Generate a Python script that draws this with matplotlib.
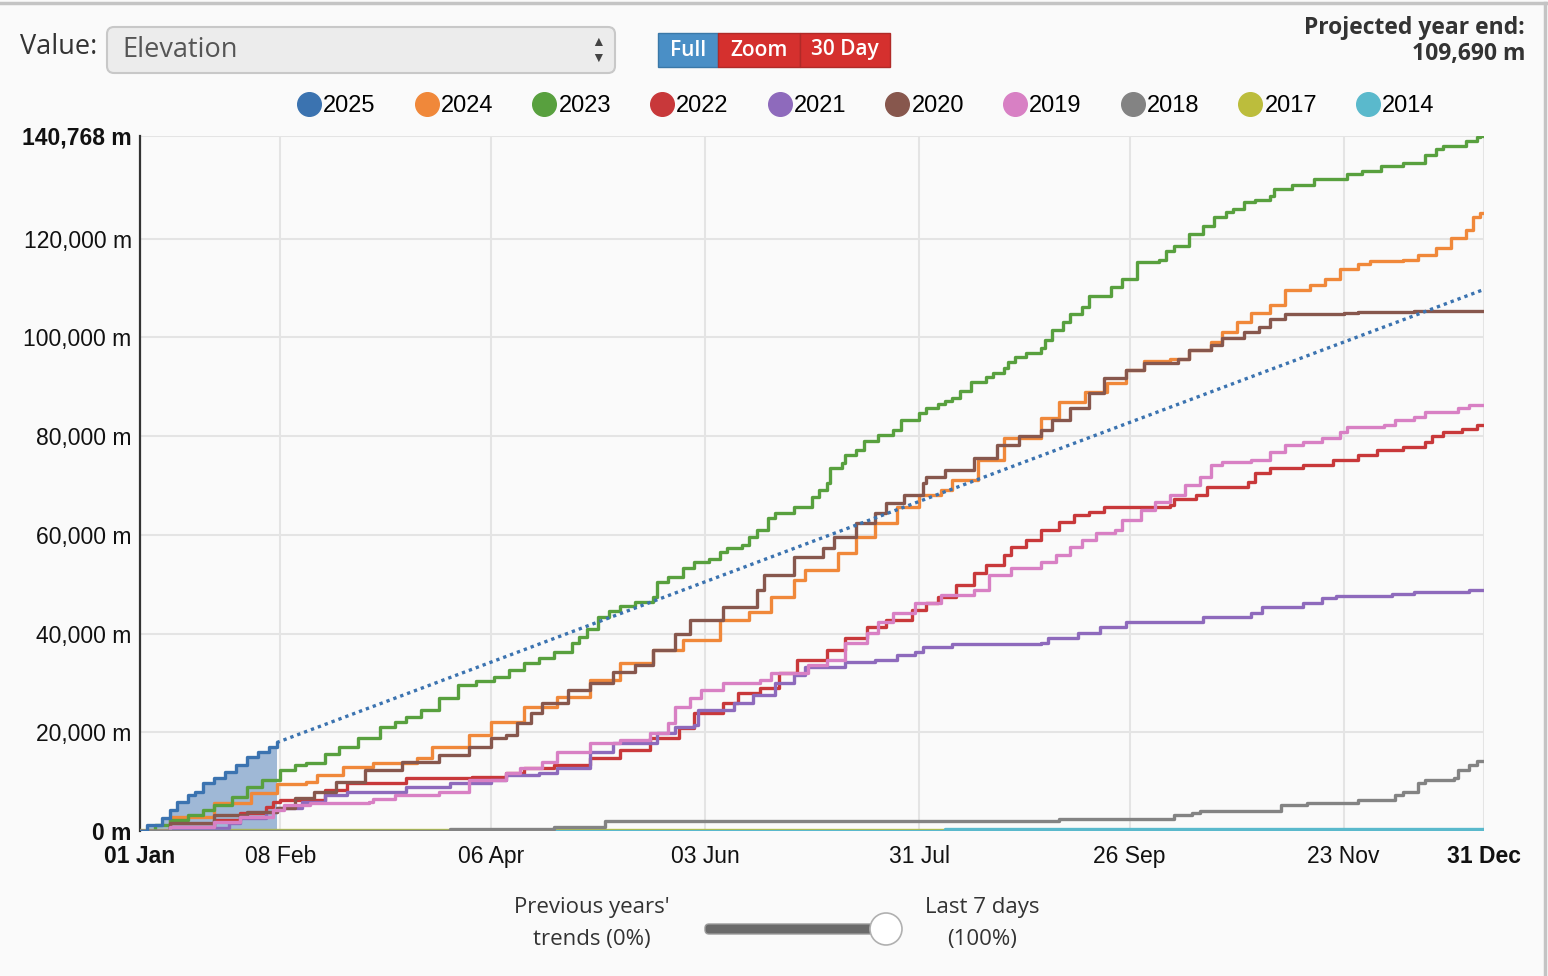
import matplotlib.pyplot as plt
from matplotlib.patches import FancyBboxPatch, Rectangle, Circle
from matplotlib.lines import Line2D
from matplotlib.ticker import FuncFormatter

plt.rcParams['font.family'] = ['Liberation Sans', 'DejaVu Sans']

# day of year -> cumulative elevation (m)
d2025 = [0, 2, 6, 8, 10, 13, 15, 17, 20, 23, 26, 29, 32, 35, 37]
v2025 = [0, 1200, 2600, 4200, 5900, 7300, 7900, 9700, 10700, 11900, 13400, 15000, 16000, 17000, 17900]

d2024 = [0, 8, 20, 30, 37, 45, 48, 55, 63, 75, 79, 89, 95, 104, 113, 122, 130, 139, 147, 157, 165,
         171, 177, 180, 189, 194, 199, 205, 211, 217, 220, 227, 234, 244, 249, 256, 262, 267, 272,
         279, 284, 290, 293, 297, 301, 306, 310, 317, 321, 325, 330, 333, 342, 346, 351, 355, 359,
         361, 363]
v2024 = [0, 2800, 5700, 7700, 9500, 9900, 11300, 13000, 13800, 14800, 17000, 19400, 22100, 25100,
         27100, 30600, 34000, 36600, 38700, 42700, 44300, 47400, 50800, 52800, 56300, 59500, 62300,
         65600, 68000, 69000, 71000, 75100, 79500, 83600, 86800, 88900, 90700, 93300, 95100, 95700,
         97400, 99000, 101000, 103000, 105000, 106500, 109500, 110500, 111900, 113900, 114800,
         115400, 115600, 116600, 118000, 120200, 121800, 124300, 125100]

d2023 = [0, 4, 8, 13, 17, 20, 25, 29, 33, 38, 42, 45, 50, 54, 59, 65, 69, 72, 76, 81, 86, 91, 96,
         100, 104, 108, 112, 117, 119, 121, 124, 127, 130, 134, 139, 140, 143, 147, 150, 154, 157,
         159, 163, 165, 167, 170, 172, 177, 182, 184, 186, 187, 190, 191, 194, 196, 200, 204, 206,
         211, 213, 216, 218, 220, 222, 225, 229, 231, 234, 235, 237, 240, 244, 245, 247, 250, 252,
         255, 257, 263, 266, 270, 276, 278, 280, 284, 288, 291, 294, 296, 299, 302, 306, 307, 312,
         318, 327, 331, 336, 342, 348, 351, 353, 359, 362, 363]
v2023 = [0, 1200, 2200, 3300, 4200, 5300, 6800, 8900, 10300, 12300, 13300, 13800, 15500, 17000,
         18800, 21000, 22000, 23100, 24500, 27000, 29500, 30300, 31200, 32600, 34000, 35000, 36300,
         38000, 39200, 41000, 43300, 44500, 45500, 46300, 47400, 50400, 51400, 53200, 54400, 55000,
         56500, 57300, 57900, 59500, 60900, 63400, 64400, 65600, 67600, 69000, 70400, 73500, 74500,
         76100, 77100, 78900, 80300, 81200, 83200, 84600, 85600, 86400, 87000, 87800, 89200, 90900,
         91900, 92700, 93700, 94900, 96100, 96900, 97800, 99400, 101400, 103000, 104800, 106100,
         108300, 110100, 111900, 115200, 115600, 117400, 118400, 121000, 122600, 124300, 125300,
         125900, 127300, 127900, 128700, 130100, 130900, 132000, 133000, 133600, 134600, 135400,
         137000, 138200, 138800, 139700, 140500, 140768]

d2022 = [0, 8, 20, 27, 34, 36, 38, 50, 56, 72, 90, 99, 104, 112, 122, 130, 138, 146, 150, 158,
         162, 168, 173, 178, 186, 191, 197, 202, 209, 213, 216, 221, 226, 229, 234, 236, 240, 244,
         249, 253, 257, 261, 279, 280, 286, 289, 300, 302, 306, 315, 323, 330, 335, 342, 348, 350,
         353, 358, 362]
v2022 = [0, 800, 2200, 3600, 4900, 5900, 6300, 8300, 9700, 10700, 10900, 11700, 12800, 13400,
         14800, 16400, 18800, 20800, 23900, 25900, 27900, 28900, 32000, 34600, 36600, 39100, 41300,
         42700, 44700, 46100, 47400, 49800, 52200, 53800, 55900, 57500, 58900, 60900, 62600, 64000,
         64600, 65600, 66000, 67200, 68000, 69600, 70600, 72500, 73500, 74100, 75100, 76100, 77100,
         77700, 78700, 80100, 80800, 81500, 82200]

d2021 = [0, 8, 24, 27, 34, 37, 44, 50, 56, 72, 84, 95, 99, 108, 113, 122, 128, 140, 145, 150,
         151, 161, 166, 172, 177, 180, 191, 199, 205, 210, 212, 220, 244, 246, 254, 260, 267, 288,
         301, 304, 315, 320, 324, 339, 345, 360]
v2021 = [0, 600, 1600, 2600, 3800, 4600, 5900, 7300, 7900, 8900, 9700, 10300, 11300, 11700, 12800,
         16000, 17800, 19800, 21000, 21500, 24500, 25900, 27500, 30000, 31600, 33200, 34200, 34600,
         35600, 36200, 37200, 37800, 38000, 39000, 40100, 41300, 42300, 43300, 44100, 45300, 46100,
         47200, 47600, 48000, 48400, 48800]

d2020 = [0, 8, 20, 29, 37, 42, 47, 53, 61, 71, 81, 89, 95, 99, 102, 106, 109, 116, 122, 128, 134,
         139, 145, 149, 158, 167, 169, 177, 185, 188, 194, 199, 202, 207, 212, 213, 218, 226, 232,
         238, 244, 247, 252, 257, 261, 267, 272, 281, 284, 290, 293, 299, 303, 306, 310, 326, 330,
         345]
v2020 = [0, 1600, 3200, 3800, 4600, 6700, 7900, 9900, 12300, 14000, 15400, 17000, 18800, 19400,
         21900, 23900, 25900, 28500, 30000, 32200, 33600, 36600, 40000, 42700, 45300, 48800, 51800,
         55500, 57300, 59500, 62300, 64400, 66400, 68000, 70400, 71600, 73100, 75500, 78100, 80100,
         81200, 83200, 85600, 88700, 91700, 93300, 94700, 95700, 97400, 98400, 99800, 101000,
         102000, 103800, 104800, 104900, 105200, 105400]

d2019 = [0, 8, 20, 27, 36, 39, 46, 62, 63, 69, 81, 89, 99, 103, 109, 113, 122, 130, 138, 143, 145,
         149, 152, 158, 168, 171, 181, 186, 191, 197, 200, 204, 210, 217, 226, 230, 236, 244, 248,
         252, 255, 259, 264, 266, 271, 275, 279, 283, 287, 290, 293, 301, 306, 310, 315, 320, 325,
         327, 337, 340, 345, 348, 357, 360]
v2019 = [0, 800, 1800, 2800, 4200, 5300, 5700, 5900, 6500, 7300, 7900, 10300, 11700, 12800, 14000,
         16000, 17800, 18400, 19800, 21900, 25100, 26900, 28500, 30000, 30600, 32000, 33600, 34600,
         38100, 40100, 42300, 44100, 46100, 47800, 48800, 51800, 53200, 54400, 55900, 57500, 58900,
         60300, 60900, 62900, 65000, 66600, 68000, 70000, 71600, 74100, 74700, 75100, 76700, 78100,
         78700, 79700, 80800, 81800, 82200, 83200, 83800, 84800, 85600, 86200]

d2018 = [0, 84, 112, 126, 249, 280, 285, 287, 309, 316, 330, 340, 342, 346, 348, 356, 357, 360, 362]
v2018 = [0, 450, 800, 2000, 2400, 3200, 3600, 4000, 5300, 5700, 6300, 7300, 7900, 9700, 10300,
         10700, 12300, 13400, 14200]

d2017 = [0]
v2017 = [150]

d2014 = [0, 218]
v2014 = [0, 400]

projected_end = 109690
y_top = 140768

# name, days, values, colour, draw order
series = [
    ('2024', d2024, v2024, '#f0883a', 3),
    ('2023', d2023, v2023, '#58a03e', 3),
    ('2022', d2022, v2022, '#c8383a', 3),
    ('2021', d2021, v2021, '#8e6abc', 3),
    ('2020', d2020, v2020, '#87574d', 3),
    ('2019', d2019, v2019, '#d880c4', 3),
    ('2018', d2018, v2018, '#838383', 3.2),
    ('2017', d2017, v2017, '#bcbd3c', 2.9),
    ('2014', d2014, v2014, '#5ab9cc', 3.1),
]
c2025 = '#3b73b0'

tick_days = [0, 38, 95, 153, 211, 268, 326, 364]
tick_names = ['01 Jan', '08 Feb', '06 Apr', '03 Jun', '31 Jul', '26 Sep', '23 Nov', '31 Dec']
y_ticks = [0, 20000, 40000, 60000, 80000, 100000, 120000, y_top]

W, H = 1548, 976
bg = '#fafafa'
fig = plt.figure(figsize=(W / 100, H / 100), dpi=100, facecolor=bg)

# header / footer widgets drawn in pixel space
hdr = fig.add_axes([0, 0, 1, 1])
hdr.set_xlim(0, W)
hdr.set_ylim(H, 0)
hdr.axis('off')
hdr.add_line(Line2D([0, W], [3, 3], color='#c4c4c4', lw=2.5))
hdr.add_line(Line2D([W - 3, W - 3], [3, H], color='#c4c4c4', lw=2.5))

ui = ['Open Sans', 'DejaVu Sans']
hdr.text(20, 47, 'Value:', fontsize=19.5, family=ui, color='#333333', va='center')
hdr.add_patch(FancyBboxPatch((107, 27), 508, 46, boxstyle='round,pad=0,rounding_size=7',
                             fc='#ececec', ec='#c8c8c8', lw=1.5))
hdr.text(122, 50, 'Elevation', fontsize=19.5, family=ui, color='#555555', va='center')
hdr.text(598, 42, '▲', fontsize=10, color='#444444', ha='center', va='center')
hdr.text(598, 58, '▼', fontsize=10, color='#444444', ha='center', va='center')

buttons = [('Full', 658, 60, '#4a8fc6'), ('Zoom', 718, 82, '#d5302e'), ('30 Day', 800, 90, '#d5302e')]
for label, bx, bw, bc in buttons:
    hdr.add_patch(Rectangle((bx, 33), bw, 34, fc=bc, ec='#b02a28' if bc != '#4a8fc6' else '#3a78a8', lw=1))
    hdr.text(bx + bw / 2, 50, label, fontsize=15, family=ui, weight='semibold', color='white',
             ha='center', va='center')

hdr.text(1525, 28, 'Projected year end:', fontsize=16.5, family=ui, weight='bold', color='#333333',
         ha='right', va='center')
hdr.text(1525, 54, f'{projected_end:,} m', fontsize=16.5, family=ui, weight='bold', color='#333333',
         ha='right', va='center')

hdr.text(592, 908, "Previous years'", fontsize=16, family=ui, color='#333333', ha='center', va='center')
hdr.text(592, 940, 'trends (0%)', fontsize=16, family=ui, color='#333333', ha='center', va='center')
hdr.text(982, 908, 'Last 7 days', fontsize=16, family=ui, color='#333333', ha='center', va='center')
hdr.text(982, 940, '(100%)', fontsize=16, family=ui, color='#333333', ha='center', va='center')
hdr.add_patch(FancyBboxPatch((705, 924), 180, 10, boxstyle='round,pad=0,rounding_size=4',
                             fc='#6a6a6a', ec='#9a9a9a', lw=1))
hdr.add_patch(Circle((886, 929), 16, fc='white', ec='#b0b0b0', lw=1.2))

# main chart
ax = fig.add_axes([140 / W, 1 - 831 / H, 1344 / W, 695 / H])
ax.set_facecolor(bg)
ax.set_xlim(0, 364)
ax.set_ylim(0, y_top)

lw = 2.4
for name, d, v, col, z in series:
    # carry the last value on to the year end
    ax.step(d + [366], v + [v[-1]], where='post', color=col, lw=lw, zorder=z)
ax.fill_between(d2025, v2025, step='post', color='#9fb8d6', lw=0, zorder=2)
ax.step(d2025, v2025, where='post', color=c2025, lw=lw, zorder=4)
ax.plot([d2025[-1], 364], [v2025[-1], projected_end], color=c2025, lw=2.4,
        linestyle=(0, (1.0, 1.2)), zorder=4)

handles = []
names = ['2025'] + [s[0] for s in series]
cols = [c2025] + [s[3] for s in series]
for n, c in zip(names, cols):
    handles.append(Line2D([], [], marker='o', ls='none', markersize=17, color=c, label=n))

ax.set_xticks(tick_days)
ax.set_xticklabels(tick_names)
ax.set_yticks(y_ticks)
ax.yaxis.set_major_formatter(FuncFormatter(lambda v, p: f'{int(v):,} m'))
ax.tick_params(axis='both', length=0, labelsize=16.5, colors='#111111')
ax.tick_params(axis='x', pad=10)
ax.tick_params(axis='y', pad=6)
for i in (0, len(tick_days) - 1):
    ax.get_xticklabels()[i].set_fontweight('bold')
for i in (0, len(y_ticks) - 1):
    ax.get_yticklabels()[i].set_fontweight('bold')

ax.grid(True, color='#e4e4e4', lw=1.5, zorder=0)
for s in ('top', 'right', 'bottom'):
    ax.spines[s].set_visible(False)
ax.spines['left'].set_color('#333333')
ax.spines['left'].set_linewidth(1.6)

fig.legend(handles=handles, loc='center', bbox_to_anchor=(866 / W, 1 - 106 / H), ncol=10,
           frameon=False, fontsize=17, handlelength=1.0, handletextpad=0.1, columnspacing=1.66,
           markerscale=1.0)

fig.savefig('out.png', dpi=100, facecolor=bg)
